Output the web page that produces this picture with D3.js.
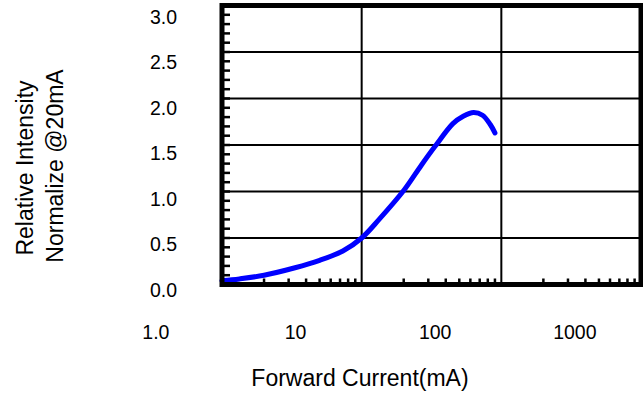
<!DOCTYPE html>
<html>
<head>
<meta charset="utf-8">
<script src="https://cdn.jsdelivr.net/npm/d3@7"></script>
<style>
  body { margin: 0; background: #fff; }
  text { font-family: "Liberation Sans", Arial, sans-serif; fill: #000; }
</style>
</head>
<body>
<div id="chart"></div>
<script>
// data
const current = [3, 4, 6, 10, 15, 22, 30, 40, 60, 80, 100, 135, 160, 190, 220, 250, 270];
const intensity = [0.04, 0.06, 0.10, 0.18, 0.26, 0.36, 0.50, 0.70, 1.01, 1.28, 1.48, 1.73, 1.81, 1.85, 1.82, 1.72, 1.63];

const xTickLabels = [1, 10, 100, 1000];
const yTickLabels = [0, 0.5, 1.0, 1.5, 2.0, 2.5, 3.0];
const xGrid = [30, 300];
const yGrid = [0.5, 1.0, 1.5, 2.0, 2.5];

const width = 643, height = 412;
const plot = { left: 222, right: 641, top: 5.5, bottom: 284.5 };

// log x, linear y
const x = d3.scaleLog()
  .domain([3, 3000])
  .range([plot.left, plot.right]);
const y = d3.scaleLinear()
  .domain([0, 3])
  .range([plot.bottom, plot.top]);
// tick labels sit a bit lower than the grid in the original
const yLab = d3.scaleLinear()
  .domain([0, 3])
  .range([290, 17]);

const svg = d3.select("#chart")
  .append("svg")
  .attr("width", width)
  .attr("height", height);

svg.append("rect").attr("width", width).attr("height", height).attr("fill", "#fff");

// grid
svg.append("g")
  .selectAll("line")
  .data(xGrid)
  .join("line")
  .attr("x1", d => x(d)).attr("x2", d => x(d))
  .attr("y1", plot.top).attr("y2", plot.bottom)
  .attr("stroke", "#000").attr("stroke-width", 2);

svg.append("g")
  .selectAll("line")
  .data(yGrid)
  .join("line")
  .attr("x1", plot.left).attr("x2", plot.right)
  .attr("y1", d => y(d)).attr("y2", d => y(d))
  .attr("stroke", "#000").attr("stroke-width", 2);

// minor ticks on bottom (3,6,9... per decade) and left (every 0.1)
const xMinor = [];
[3, 30, 300].forEach(dec => { for (let k = 2; k <= 9; k++) xMinor.push(dec * k); });
const yMinor = d3.range(1, 30).map(i => i / 10);

svg.append("g")
  .selectAll("line")
  .data(xMinor)
  .join("line")
  .attr("x1", d => x(d)).attr("x2", d => x(d))
  .attr("y1", plot.bottom).attr("y2", plot.bottom - 6)
  .attr("stroke", "#000").attr("stroke-width", 2.5);

svg.append("g")
  .selectAll("line")
  .data(yMinor)
  .join("line")
  .attr("x1", plot.left).attr("x2", plot.left + 8)
  .attr("y1", d => y(d)).attr("y2", d => y(d))
  .attr("stroke", "#000").attr("stroke-width", 2.5);

// curve
const line = d3.line()
  .x((d, i) => x(current[i]))
  .y(d => y(d))
  .curve(d3.curveCatmullRom.alpha(0.5));

svg.append("path")
  .datum(intensity)
  .attr("d", line)
  .attr("fill", "none")
  .attr("stroke", "#0000ff")
  .attr("stroke-width", 5)
  .attr("stroke-linecap", "round");

// frame
svg.append("rect")
  .attr("x", plot.left).attr("y", plot.top)
  .attr("width", plot.right - plot.left)
  .attr("height", plot.bottom - plot.top)
  .attr("fill", "none")
  .attr("stroke", "#000")
  .attr("stroke-width", 5);

// axes (labels only)
function xAxis(g) {
  g.attr("transform", `translate(0,${318})`)
    .call(d3.axisBottom(x).tickValues(xTickLabels).tickSize(0).tickPadding(7)
      .tickFormat(d => d === 1 ? "1.0" : String(d)))
    .call(g => g.select(".domain").remove())
    .attr("font-size", "19.5px")
    .attr("font-family", null);
}
function yAxis(g) {
  g.attr("transform", `translate(177,0)`)
    .call(d3.axisLeft(yLab).tickValues(yTickLabels).tickSize(0).tickPadding(0)
      .tickFormat(d3.format(".1f")))
    .call(g => g.select(".domain").remove())
    .attr("font-size", "19.5px")
    .attr("font-family", null);
}
svg.append("g").call(xAxis);
svg.append("g").call(yAxis);

// titles
svg.append("text")
  .attr("x", 360).attr("y", 386)
  .attr("text-anchor", "middle")
  .attr("font-size", "23px")
  .text("Forward Current(mA)");

svg.append("text")
  .attr("transform", "translate(33,168) rotate(-90)")
  .attr("text-anchor", "middle")
  .attr("font-size", "23px")
  .text("Relative Intensity");

svg.append("text")
  .attr("transform", "translate(63,166) rotate(-90)")
  .attr("text-anchor", "middle")
  .attr("font-size", "23px")
  .text("Normalize @20mA");
</script>
</body>
</html>
